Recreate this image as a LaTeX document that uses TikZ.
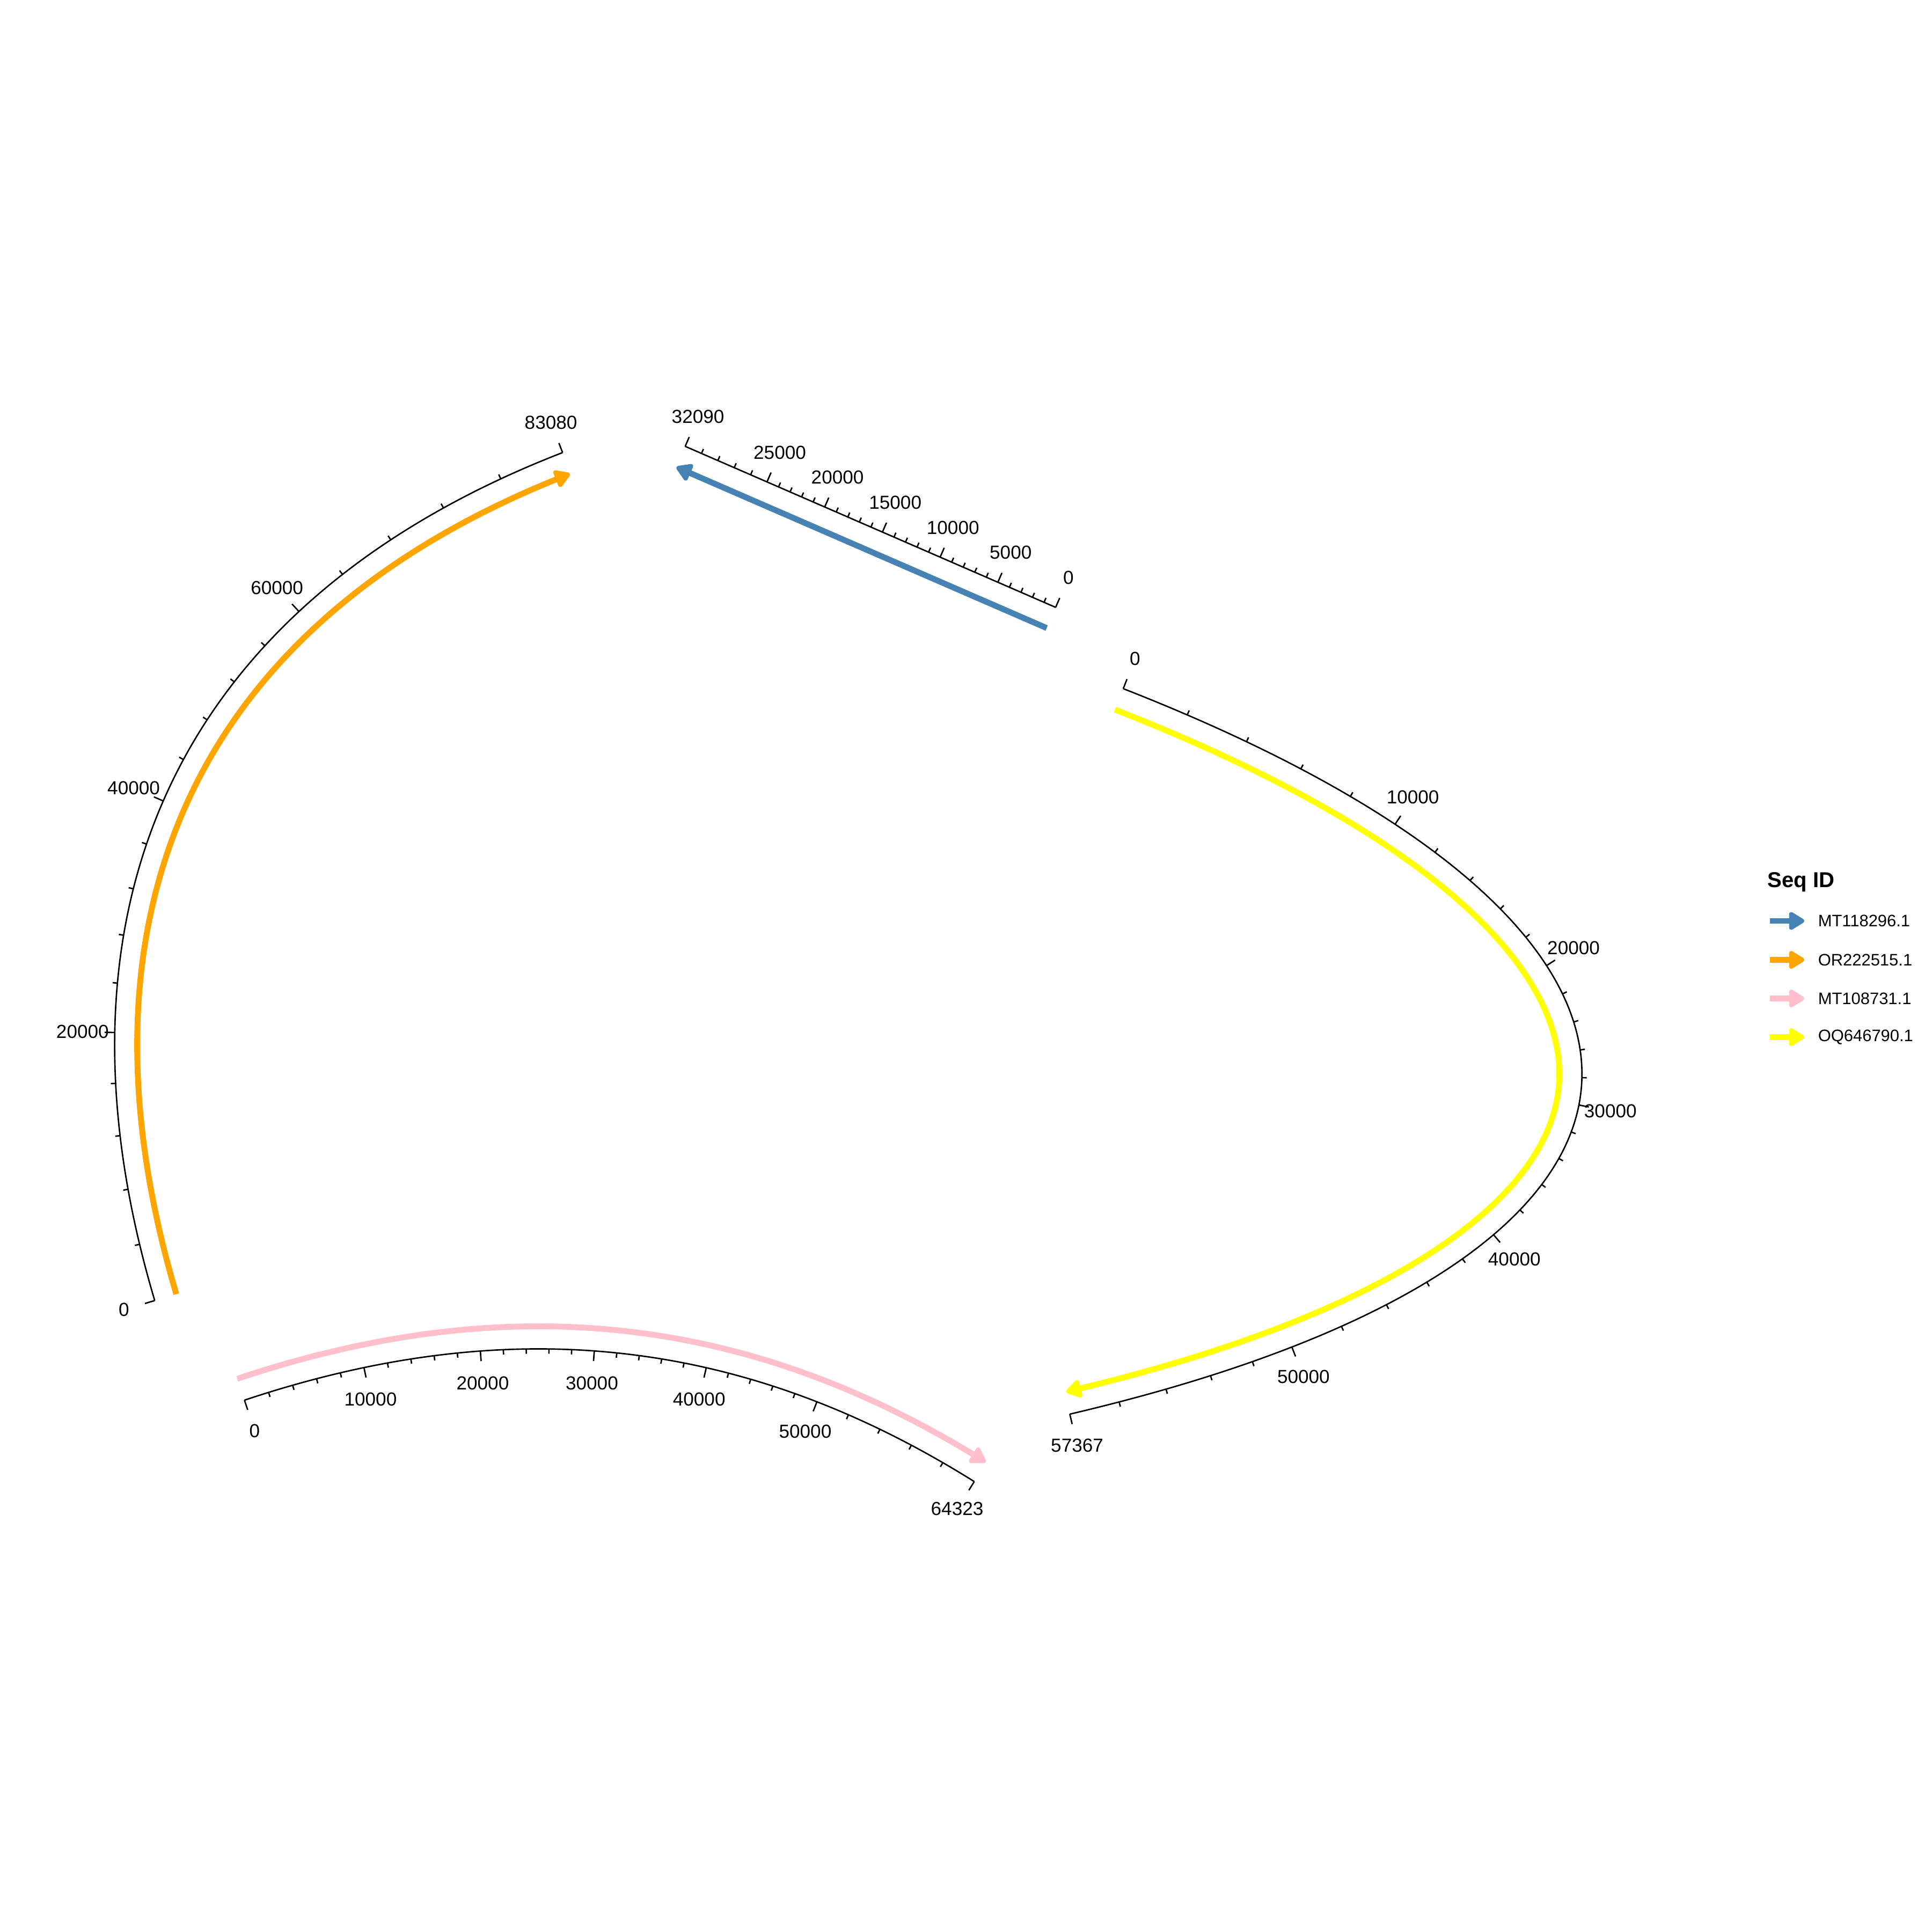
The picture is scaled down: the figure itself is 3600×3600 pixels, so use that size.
\documentclass[tikz,border=0pt]{standalone}
\usepackage{fontspec}
\setmainfont{Liberation Sans}
\usetikzlibrary{arrows.meta}
\definecolor{cblue}{HTML}{4682B4}
\definecolor{corange}{HTML}{FFA500}
\definecolor{cpink}{HTML}{FFC0CB}
\definecolor{cyellow}{HTML}{FFFF00}
% control points of one sequence track (image pixels, y downwards) and side of the ticks
\newcommand\setseq[9]{\def\Ax{#1}\def\Ay{#2}\def\Bx{#3}\def\By{#4}\def\Cx{#5}\def\Cy{#6}\def\Dx{#7}\def\Dy{#8}\def\sgn{#9}}
\newcommand\bzpoint[1]{%
  \pgfmathsetmacro\tu{#1}%
  \pgfmathsetmacro\tpx{bzx(\tu)}%
  \pgfmathsetmacro\tpy{bzy(\tu)}%
  \pgfmathsetmacro\tnx{bnx(\tu)}%
  \pgfmathsetmacro\tny{bny(\tu)}}
% #1 prefix, #2 length (kbp), #3 majors value/label, #4 major intervals a/b
\newcommand\drawseq[4]{%
  \foreach \v/\lab in {#3} {%
    \bzpoint{\v/#2}%
    \draw[axisline] (\tpx,\tpy) -- ++({19*(\tnx)},{19*(\tny)});
    \node[ticklab] (#1-\lab) at ({\tpx+60*(\tnx)},{\tpy+60*(\tny)}) {\lab};
  }%
  \foreach \a/\b in {#4} {%
    \foreach \k in {1,2,3,4} {%
      \bzpoint{(\a+\k*(\b-\a)/5)/#2}%
      \draw[axisline] (\tpx,\tpy) -- ++({9*(\tnx)},{9*(\tny)});
    }%
  }%
  \draw[axisline] (\Ax,\Ay) .. controls (\Bx,\By) and (\Cx,\Cy) .. (\Dx,\Dy);
}
\newcommand\drawgene[1]{%
  \draw[genearrow, #1] plot[smooth, variable=\t, domain=0:1, samples=60]
    ({bzx(\t)-42*bnx(\t)},{bzy(\t)-42*bny(\t)});
}
\begin{document}
\begin{tikzpicture}[x=0.01cm, y=-0.01cm,
  declare function={
    bzx(\q)=(1-\q)*(1-\q)*(1-\q)*\Ax+3*\q*(1-\q)*(1-\q)*\Bx+3*\q*\q*(1-\q)*\Cx+\q*\q*\q*\Dx;
    bzy(\q)=(1-\q)*(1-\q)*(1-\q)*\Ay+3*\q*(1-\q)*(1-\q)*\By+3*\q*\q*(1-\q)*\Cy+\q*\q*\q*\Dy;
    bdx(\q)=(1-\q)*(1-\q)*(\Bx-\Ax)+2*\q*(1-\q)*(\Cx-\Bx)+\q*\q*(\Dx-\Cx);
    bdy(\q)=(1-\q)*(1-\q)*(\By-\Ay)+2*\q*(1-\q)*(\Cy-\By)+\q*\q*(\Dy-\Cy);
    bnx(\q)=\sgn*bdy(\q)/veclen(bdx(\q),bdy(\q));
    bny(\q)=0-\sgn*bdx(\q)/veclen(bdx(\q),bdy(\q));
  },
  axisline/.style={line width=0.75pt, black},
  ticklab/.style={font=\fontsize{10}{12}\selectfont, inner sep=0pt, anchor=center},
  genearrow/.style={line width=3.1pt, line join=round, -{Triangle[length=9.2pt, width=10.5pt, round]}},
  legtext/.style={font=\fontsize{8.8}{10.5}\selectfont, inner sep=0pt, anchor=west},
]
\fill[white] (0,0) rectangle (3600,3600);
\useasboundingbox (0,0) rectangle (3600,3600);

% MT118296.1 (blue)
\setseq{1967}{1131.7}{1736.9}{1031.7}{1506.8}{931.7}{1276.7}{831.7}{(-1)}
\drawseq{blue}{32.09}{0/0,5/5000,10/10000,15/15000,20/20000,25/25000,32.09/32090}{0/5,5/10,10/15,15/20,20/25,25/32.09}
\drawgene{cblue}

% OR222515.1 (orange)
\setseq{288.3}{2423.4}{70.2}{1689.7}{331.9}{1121.2}{1048.3}{843.3}{(1)}
\drawseq{orange}{83.08}{0/0,20/20000,40/40000,60/60000,83.08/83080}{0/20,20/40,40/60,60/83.08}
\drawgene{corange}

% OQ646790.1 (yellow)
\setseq{2093}{1283.2}{3278.2}{1747.3}{3217.5}{2348.2}{1993.4}{2635}{(1)}
\drawseq{yellow}{57.367}{0/0,10/10000,20/20000,30/30000,40/40000,50/50000,57.367/57367}{0/10,10/20,20/30,30/40,40/50,50/57.367}
\drawgene{cyellow}

% MT108731.1 (pink)
\setseq{455.5}{2609}{940}{2447.3}{1377.1}{2486.3}{1815.4}{2760.7}{(-1)}
\drawseq{pink}{64.323}{0/0,10/10000,20/20000,30/30000,40/40000,50/50000,64.323/64323}{0/10,10/20,20/30,30/40,40/50,50/64.323}
\drawgene{cpink}

% legend
\node[anchor=base west, inner sep=0pt, font=\bfseries\fontsize{11.4}{13}\selectfont] (legtitle) at (3293,1653.7) {Seq ID};
\foreach \y/\c/\n [count=\i] in {1716/cblue/MT118296.1, 1788.5/corange/OR222515.1, 1860.5/cpink/MT108731.1, 1932.5/cyellow/OQ646790.1} {
  \coordinate (ka\i) at (3298,\y);
  \coordinate (kb\i) at (3362,\y);
  \draw[genearrow, \c] (ka\i) -- (kb\i);
  \node[legtext] (leg\i) at (3387,\y) {\n};
}
\end{tikzpicture}
\end{document}
